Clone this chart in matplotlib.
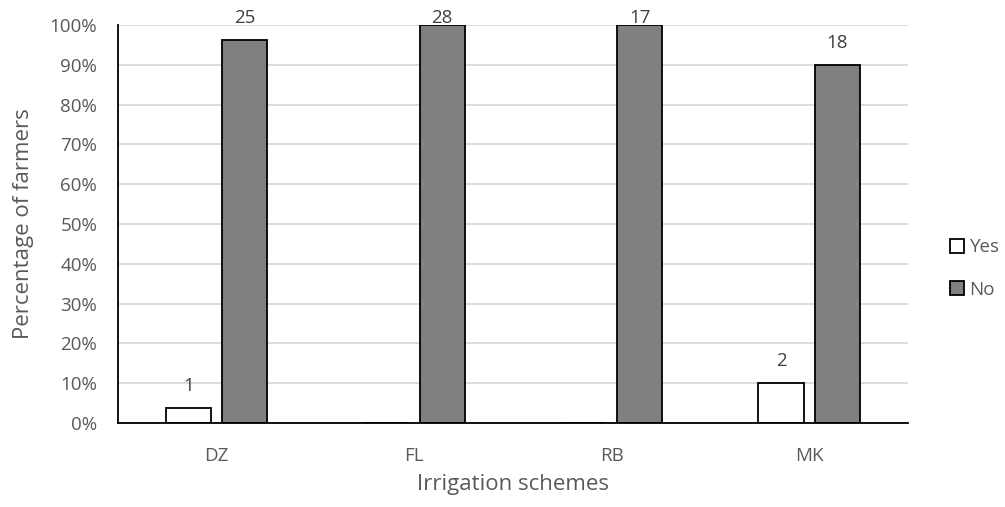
import matplotlib.pyplot as plt
import numpy as np

# Data
schemes = ['DZ', 'FL', 'RB', 'MK']
yes_pct = [3.85, 0, 0, 10]
no_pct = [96.15, 100, 100, 90]
yes_n = ['1', '', '', '2']
no_n = ['25', '28', '17', '18']
yticks = [0, 10, 20, 30, 40, 50, 60, 70, 80, 90, 100]


def main():
	plt.rcParams['font.family'] = ['Open Sans', 'DejaVu Sans']
	txt = '#595959'

	fig = plt.figure(figsize=(10.05, 5.07), dpi=100)
	ax = fig.add_axes([0.1174, 0.1657, 0.786, 0.785])

	x = np.arange(len(schemes))
	w = 0.23
	b1 = ax.bar(x - 0.142, yes_pct, w, color='white', edgecolor='black', linewidth=1.3, label='Yes', zorder=3)
	b2 = ax.bar(x + 0.142, no_pct, w, color='#808080', edgecolor='black', linewidth=1.3, label='No', zorder=3)

	# count labels above the bars (kept inside the top of the plot like Excel does)
	for bars, labs in ((b1, yes_n), (b2, no_n)):
		for r, lab in zip(bars, labs):
			if lab:
				ax.text(r.get_x() + r.get_width() / 2, min(r.get_height() + 4.3, 100.5), lab,
					ha='center', va='baseline', fontsize=13.5, color='#404040')

	ax.set_xlim(-0.5, len(schemes) - 0.5)
	ax.set_ylim(0, 100)
	ax.set_yticks(yticks)
	ax.set_yticklabels([f'{t}%' for t in yticks])
	ax.set_xticks(x)
	ax.set_xticklabels(schemes)
	ax.tick_params(length=0, labelsize=13.5, colors=txt)
	ax.tick_params(axis='y', pad=15)
	ax.tick_params(axis='x', pad=17)

	ax.grid(axis='y', color='#d9d9d9', linewidth=1.3, zorder=0)
	for s in ('top', 'right'):
		ax.spines[s].set_visible(False)
	for s in ('left', 'bottom'):
		ax.spines[s].set_linewidth(1.3)
		ax.spines[s].set_color('black')
		ax.spines[s].set_zorder(4)

	ax.set_xlabel('Irrigation schemes', fontsize=16, color=txt)
	ax.set_ylabel('Percentage of farmers', fontsize=16, color=txt)
	ax.xaxis.set_label_coords(0.5, -0.128)
	ax.yaxis.set_label_coords(-0.106, 0.5)

	leg = ax.legend(loc='center left', bbox_to_anchor=(1.053, 0.388), frameon=False,
		fontsize=13.5, handlelength=0.75, handleheight=0.75, handletextpad=0.3,
		labelspacing=1.3, borderpad=0, borderaxespad=0)
	for t in leg.get_texts():
		t.set_color(txt)

	fig.savefig('out.png', dpi=100)


if __name__ == "__main__":
	main()
